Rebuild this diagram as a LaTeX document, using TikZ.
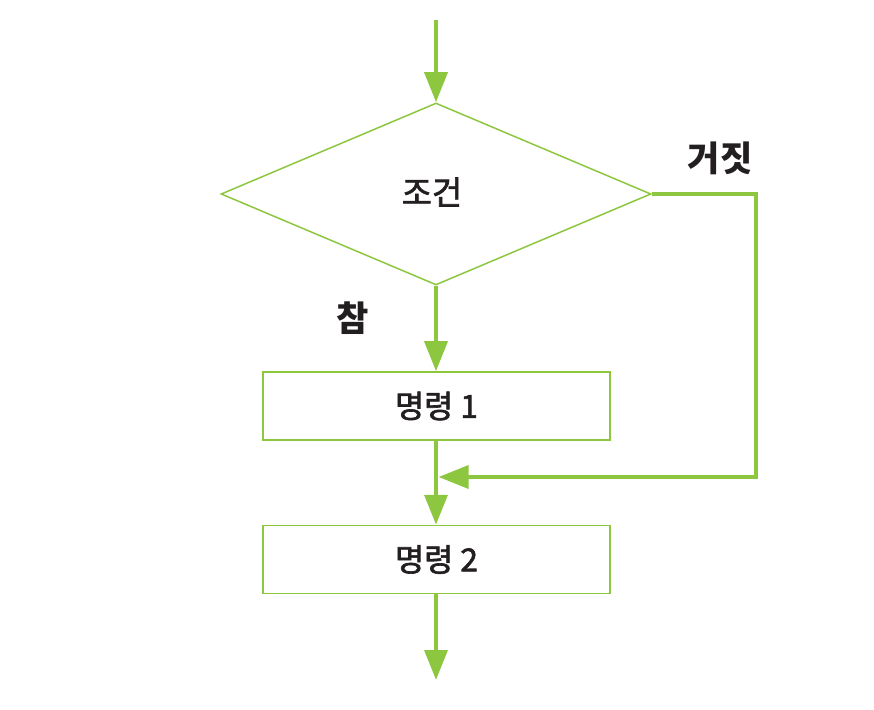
\documentclass[tikz,border=0pt]{standalone}
\usepackage{fontspec}
\setmainfont{Noto Sans CJK KR}
\newfontfamily\medfont[FakeBold=2]{Noto Sans CJK KR}
\usetikzlibrary{arrows.meta,shapes.geometric}
\definecolor{leaf}{RGB}{141,198,63}
\definecolor{ink}{RGB}{35,31,32}
\tikzset{
  flow/.style={draw=leaf,line width=0.135cm,-{Triangle[length=0.9cm,width=0.68cm]}},
  stepbox/.style={draw=leaf,line width=0.045cm,minimum width=10.41cm,minimum height=2.04cm,inner sep=0pt,
    text=ink,font=\medfont\fontsize{27}{32}\selectfont},
  tag/.style={text=ink,font=\fontsize{30}{36}\selectfont\bfseries}
}
\begin{document}
\begin{tikzpicture}[x=0.03cm,y=-0.03cm]
\useasboundingbox (0,0) rectangle (874,710);
\node[diamond,draw=leaf,line width=0.045cm,minimum width=12.9cm,minimum height=5.46cm,inner sep=0pt] (cond) at (436,194) {};
\node[text=ink,font=\medfont\fontsize{28}{32}\selectfont] (condtext) at (432,192) {조건};
\node[stepbox] (cmd1) at (436.5,406) {명령 1};
\node[stepbox] (cmd2) at (436.5,559.5) {명령 2};
\coordinate (entry) at (436,20);
\coordinate (exit) at (436,680);
\coordinate (turn) at (756,194);
\coordinate (merge) at (438.5,477);
\draw[flow] (entry) -- (cond.north);
\draw[flow] (cond.south) -- (cmd1.north -| cond.south);
\draw[flow] (cmd1.south -| cond.south) -- (cmd2.north -| cond.south);
\draw[flow] (cmd2.south -| cond.south) -- (exit);
% false branch
\draw[flow] (cond.east) -- (turn) |- (merge);
\node[tag] (no) at (720,158) {거짓};
\node[tag] (yes) at (353,318) {참};
\end{tikzpicture}
\end{document}
